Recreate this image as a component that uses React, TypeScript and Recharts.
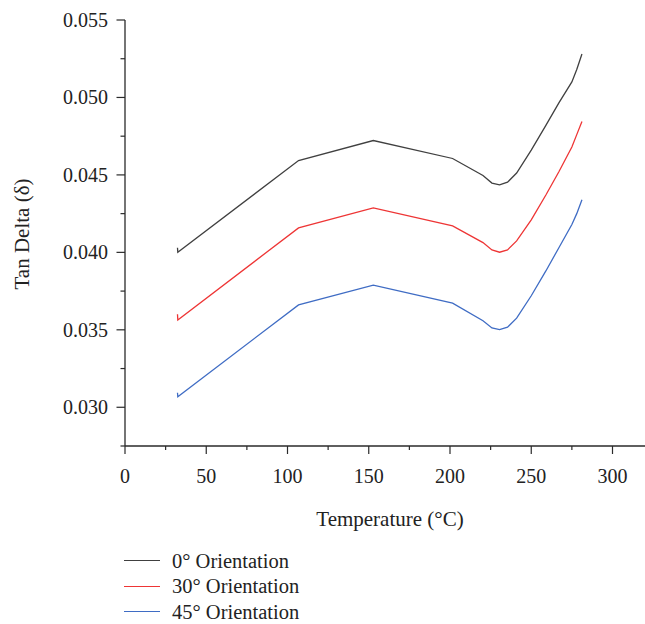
import React from "react";
import { LineChart, Line, XAxis, YAxis, Legend } from "recharts";

// Temperature (°C) sample points
const temperatures = [32.3, 32.5, 106.8, 152.8, 201.6, 220.3, 225.8, 230.5, 235.4, 241.0, 250.0, 259.0, 267.0, 275.0, 278.0, 281.2];

// Tan delta values
const orient0 = [0.0403, 0.04, 0.04593, 0.04722, 0.04606, 0.04496, 0.04447, 0.04436, 0.04453, 0.04512, 0.0466, 0.0482, 0.04965, 0.0510, 0.0518, 0.0528];
const orient30 = [0.036, 0.03564, 0.04158, 0.04287, 0.04171, 0.04063, 0.04016, 0.04001, 0.04016, 0.04074, 0.0421, 0.0437, 0.0452, 0.0468, 0.0476, 0.04845];
const orient45 = [0.03094, 0.03068, 0.03661, 0.03788, 0.03672, 0.03559, 0.03512, 0.03501, 0.03517, 0.03575, 0.0372, 0.0388, 0.0403, 0.0418, 0.0425, 0.04339];

const seriesNames = ["0° Orientation", "30° Orientation", "45° Orientation"];
const seriesColors = ["#404040", "#ee3535", "#3f6cc4"];

const xTicks = [0, 25, 50, 75, 100, 125, 150, 175, 200, 225, 250, 275, 300];
const yTicks = [0.0275, 0.03, 0.0325, 0.035, 0.0375, 0.04, 0.0425, 0.045, 0.0475, 0.05, 0.0525, 0.055];

const data = temperatures.map((t, i) => ({
  t,
  a: orient0[i],
  b: orient30[i],
  c: orient45[i],
}));

const FONT = "'Liberation Serif', 'DejaVu Serif', serif";
const AXIS = "#2a2a2a";

const XTick = (props: any) => {
  const { x, y, payload } = props;
  const v = payload.value as number;
  const major = v % 50 === 0;
  return (
    <g>
      <line x1={x} x2={x} y1={y} y2={y + (major ? 8 : 4)} stroke={AXIS} strokeWidth={1.2} />
      {major && (
        <text x={x} y={y + 37} textAnchor="middle" fontFamily={FONT} fontSize={20} fill="#222">
          {v}
        </text>
      )}
    </g>
  );
};

const YTick = (props: any) => {
  const { x, y, payload } = props;
  const v = payload.value as number;
  const major = Math.abs(v * 200 - Math.round(v * 200)) < 1e-6;
  return (
    <g>
      <line x1={x - (major ? 8.5 : 4.5)} x2={x} y1={y} y2={y} stroke={AXIS} strokeWidth={1.2} />
      {major && (
        <text x={x - 17} y={y + 7} textAnchor="end" fontFamily={FONT} fontSize={20} fill="#222">
          {v.toFixed(3)}
        </text>
      )}
    </g>
  );
};

const LegendContent = () => (
  <div style={{ fontFamily: FONT, fontSize: 20.5, lineHeight: "16px", color: "#222" }}>
    {seriesNames.map((n, i) => (
      <div key={n} style={{ display: "flex", alignItems: "center", height: 25.5 }}>
        <div style={{ width: 36, height: 0, borderTop: `1.3px solid ${seriesColors[i]}`, marginRight: 12 }} />
        <span>{n}</span>
      </div>
    ))}
  </div>
);

export default function App() {
  return (
    <div style={{ position: "absolute", left: 0, top: 0, width: 645, height: 624, background: "#fff" }}>
      <LineChart width={645} height={624} data={data} margin={{ top: 20, right: 0, left: 0, bottom: 0 }}>
        <XAxis
          dataKey="t"
          type="number"
          domain={[0, 320]}
          ticks={xTicks}
          interval={0}
          allowDataOverflow
          tickLine={false}
          tickSize={0}
          tickMargin={0}
          tick={<XTick />}
          height={178}
          axisLine={{ stroke: AXIS, strokeWidth: 1.3 }}
          label={{
            content: () => (
              <text x={390} y={526} textAnchor="middle" fontFamily={FONT} fontSize={21} fill="#222">
                Temperature (°C)
              </text>
            ),
          }}
        />
        <YAxis
          type="number"
          domain={[0.0275, 0.055]}
          ticks={yTicks}
          interval={0}
          allowDataOverflow
          tickLine={false}
          tickSize={0}
          tickMargin={0}
          tick={<YTick />}
          width={125}
          axisLine={{ stroke: AXIS, strokeWidth: 1.3 }}
          label={{
            content: () => (
              <text
                x={0}
                y={0}
                transform="translate(29 234) rotate(-90)"
                textAnchor="middle"
                fontFamily={FONT}
                fontSize={21}
                fill="#222"
              >
                Tan Delta (δ)
              </text>
            ),
          }}
        />
        <Legend
          layout="vertical"
          align="center"
          verticalAlign="middle"
          content={<LegendContent />}
          wrapperStyle={{ left: 124, top: 548, width: 300, height: 74 }}
        />
        <Line type="linear" dataKey="a" name={seriesNames[0]} stroke={seriesColors[0]} strokeWidth={1.3} dot={false} isAnimationActive={false} />
        <Line type="linear" dataKey="b" name={seriesNames[1]} stroke={seriesColors[1]} strokeWidth={1.3} dot={false} isAnimationActive={false} />
        <Line type="linear" dataKey="c" name={seriesNames[2]} stroke={seriesColors[2]} strokeWidth={1.3} dot={false} isAnimationActive={false} />
      </LineChart>
    </div>
  );
}
